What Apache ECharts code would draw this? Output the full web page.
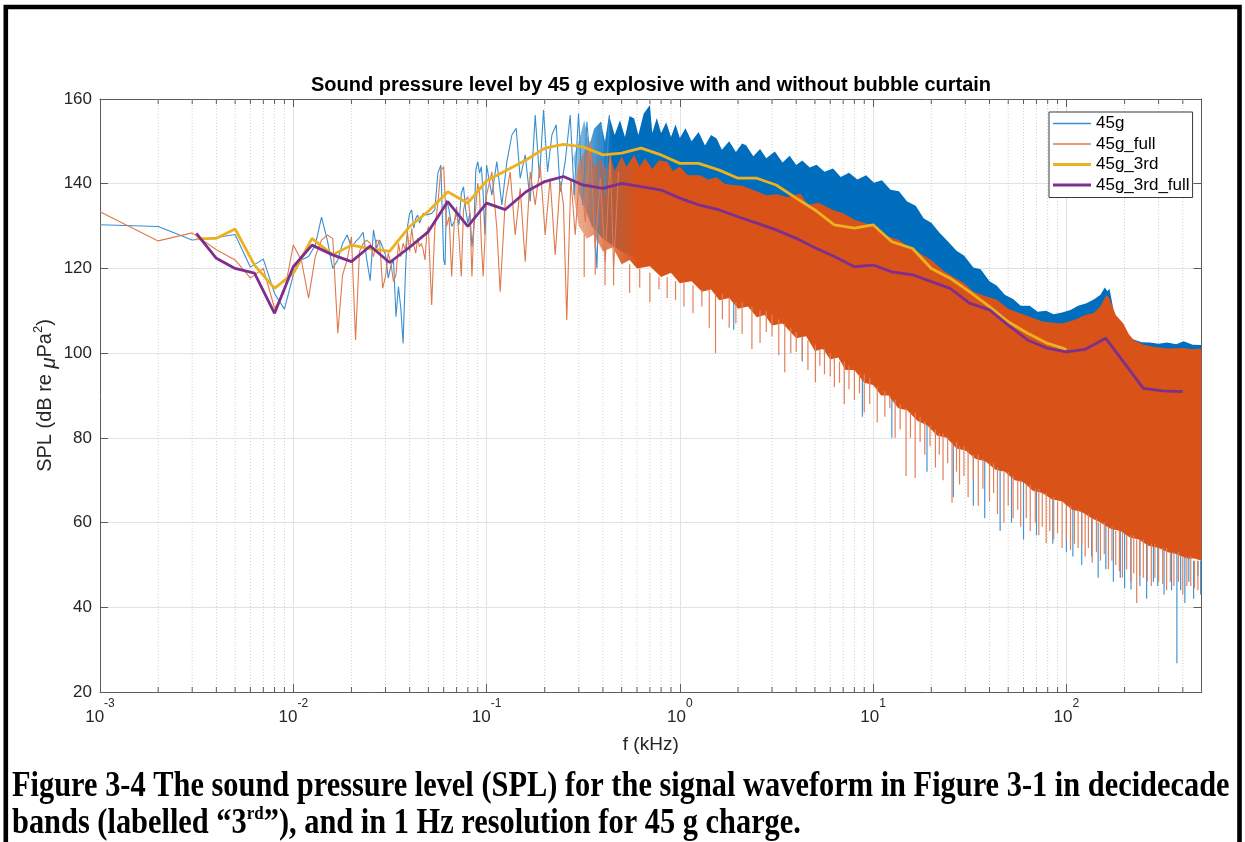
<!DOCTYPE html>
<html><head><meta charset="utf-8">
<script src="https://cdn.jsdelivr.net/npm/echarts/dist/echarts.min.js"></script>
<style>html,body{margin:0;padding:0;background:#fff}#c{width:1245px;height:842px}</style>
</head><body><div id="c"></div><script>
// ---------- DATA (frequency in kHz, SPL in dB re µPa²) ----------
// 1 Hz resolution spectra, low-frequency part where individual points are readable
const blueLine = [
[0.001,130.3],[0.002,129.9],[0.003,126.7],[0.004,127.3],[0.005,128.0],[0.006,120.3],[0.007,122.2],[0.008,114.1],[0.009,110.4],[0.010,118.5],
[0.011,122.0],[0.012,122.8],[0.013,125.5],[0.014,132.1],[0.015,126.7],[0.016,120.0],[0.017,122.0],[0.018,125.9],[0.019,127.9],[0.020,125.0],
[0.021,126.3],[0.022,127.3],[0.023,128.5],[0.024,122.0],[0.025,117.1],[0.026,129.1],[0.027,124.8],[0.028,126.7],[0.029,125.0],[0.030,123.2],
[0.031,117.7],[0.032,120.6],[0.033,122.0],[0.034,108.6],[0.035,115.7],[0.036,110.6],[0.037,102.3],[0.038,118.5],[0.039,129.9],[0.040,133.0],
[0.041,133.8],[0.042,129.5],[0.043,131.8],[0.044,132.6],[0.045,130.7],[0.046,131.8],[0.047,133.0],[0.048,133.4],[0.049,132.6],[0.050,133.0],
[0.052,133.0],[0.054,133.8],[0.056,142.5],[0.058,144.4],[0.060,122.0],[0.061,120.8],[0.062,136.2],[0.064,133.8],[0.066,129.9],[0.068,131.0],
[0.070,133.0],[0.072,130.3],[0.074,137.7],[0.076,139.3],[0.078,133.8],[0.080,130.7],[0.082,133.0],[0.084,125.1],[0.086,129.9],[0.088,143.2],
[0.090,145.2],[0.092,142.5],[0.094,144.0],[0.096,137.7],[0.098,128.0],[0.100,144.4],
[0.1065,137.3],[0.113,145.2],[0.120,135.0],[0.1274,145.2],[0.1352,151.5],[0.1423,153.1],[0.1493,141.3],[0.1585,146.8],[0.1682,135.8],
[0.1785,156.2],[0.1879,141.3],[0.1971,157.4],[0.2068,142.8],[0.2178,151.5],[0.2293,153.9],[0.2404,138.1],[0.2552,145.2],[0.2709,156.2],
[0.2841,137.3],[0.2991,156.6],[0.3150,135.0],[0.3304,154.6],[0.3508,140.5],[0.3724,120.0],[0.3905,154.6],[0.4111,137.3],[0.4327,156.2]
];
const orangeLine = [
[0.001,133.4],[0.002,126.5],[0.003,128.4],[0.004,124.4],[0.005,122.0],[0.006,117.7],[0.007,120.0],[0.008,110.6],[0.009,114.5],[0.010,125.5],
[0.011,122.0],[0.012,113.0],[0.013,122.8],[0.014,126.7],[0.015,127.9],[0.016,127.1],[0.017,104.7],[0.018,118.5],[0.019,122.0],[0.020,127.5],
[0.021,103.1],[0.022,124.0],[0.023,125.9],[0.024,126.7],[0.025,125.9],[0.026,122.8],[0.027,126.7],[0.028,126.3],[0.029,115.3],[0.030,118.1],
[0.031,123.6],[0.032,121.2],[0.033,116.9],[0.034,118.5],[0.035,125.9],[0.036,122.8],[0.037,125.9],[0.038,124.4],[0.039,128.3],[0.040,124.0],
[0.041,129.5],[0.042,125.5],[0.043,123.6],[0.044,127.1],[0.045,125.1],[0.046,125.9],[0.047,124.4],[0.048,122.0],[0.049,127.9],[0.050,129.9],
[0.052,111.4],[0.054,129.5],[0.056,135.4],[0.058,143.2],[0.060,144.0],[0.061,136.9],[0.062,129.9],[0.064,132.2],[0.066,118.1],[0.068,130.7],
[0.070,134.6],[0.072,127.5],[0.074,118.1],[0.076,133.8],[0.078,136.2],[0.080,136.9],[0.082,133.0],[0.084,118.1],[0.086,129.9],[0.088,134.6],
[0.090,140.1],[0.092,137.7],[0.094,125.9],[0.096,118.1],[0.098,126.7],[0.100,137.3],
[0.1065,142.8],[0.113,129.5],[0.1176,114.5],[0.1249,135.8],[0.1325,142.8],[0.1407,127.9],[0.1493,138.9],[0.1585,121.6],[0.1682,142.8],
[0.1785,135.0],[0.1895,144.4],[0.2010,127.9],[0.2133,141.3],[0.2265,123.2],[0.2404,140.5],[0.2500,135.0],[0.2600,107.8],[0.2730,141.3],
[0.2876,127.9],[0.3051,145.2],[0.3240,131.0],[0.3438,150.0],[0.3650,124.7],[0.3876,141.3],[0.4111,121.6],[0.4363,146.8],[0.4540,120.0],[0.4820,142.8]
];
// dense 1 Hz part: upper / lower edge of the solid body
const blueTop = [
[0.28,146],[0.30,150],[0.32,155],[0.34,149],[0.36,153],[0.39,154.6],[0.41,150],[0.43,156.2],[0.46,151.5],[0.49,155],[0.52,151],[0.55,156],[0.58,155.4],
[0.61,151.5],[0.65,156.5],[0.70,158.6],[0.72,152],[0.76,155.5],[0.80,152],[0.85,154.5],[0.9,151],[0.95,154],[1.0,150.8],[1.07,153.1],[1.15,150],
[1.25,152.2],[1.35,149],[1.45,151.5],[1.55,150.7],[1.65,148],[1.8,150],[1.95,147.5],[2.1,149.5],[2.2,149.1],[2.4,146.5],[2.6,148.2],[2.8,146],
[3.1,147.6],[3.4,145],[3.7,146.6],[4.0,144.4],[4.3,145.5],[4.7,143.8],[5.1,144.5],[5.6,142.8],[6.2,143.6],[6.8,141.6],[7.5,142.6],[8.3,141],
[9.2,142],[10.1,140.2],[11.1,140.8],[12.3,138.6],[13.6,138.2],[15,135.8],[16.6,134.8],[18.3,131.8],[20,130.8],[22,128.5],[24.6,126.2],[27,124.2],
[29.6,123],[33,120.2],[36,119.8],[40,117],[43.7,115.9],[48,113.8],[53,112.8],[58,111.2],[64.5,111.2],[71,109.8],[78.5,110],[86,109.2],[95,109.6],
[105,110.2],[115,111.2],[127,111.8],[140,112.8],[150,113.8],[158,115.5],[163,114.6],[167,115.2],[172,112.2],[176,109.6],[190,106],[205,103.8],
[223,103.2],[245,102.6],[270,102.5],[300,102.2],[332,102.5],[370,102.1],[404,102.8],[450,102],[500,101.9]
];
const blueBottom = [
[0.28,146],[0.30,138],[0.35,130],[0.40,127],[0.5,124],[0.7,121],[1.0,120],[1.5,116],[2,114],[3,111],[4,107],[6,102],[8,98],[10,95],[15,89],
[20,85],[30,80],[40,77],[60,72],[100,67],[150,62],[237,58],[373,55],[500,53]
];
const orangeTop = [
[0.28,138],[0.30,145],[0.3438,150],[0.36,144],[0.39,146],[0.42,143],[0.4363,146.8],[0.46,143],[0.5,146.5],[0.53,144],[0.58,146.8],[0.62,144],[0.66,146],
[0.72,143.5],[0.78,145.5],[0.86,145.2],[0.92,143],[1.0,144],[1.1,142],[1.27,142],[1.4,141],[1.55,141.5],[1.7,140],[1.9,139.7],[2.1,139.5],
[2.4,138.5],[2.8,137.3],[3.2,137.5],[3.6,136.8],[4.2,137.7],[4.6,135],[5.2,135.5],[6.2,133.8],[7,133],[8,131.5],[9.2,130.6],[10.5,129.5],
[12,127.5],[13.6,126.7],[15.5,124.8],[17.5,123.5],[20,122],[23,119.5],[26,118],[29.6,116.5],[33,114.5],[38,113.5],[43.7,112.6],[50,110.5],
[57,109.5],[64.5,108.6],[75,107.5],[85,107.2],[95,107],[110,107.8],[125,109],[138,109.4],[150,111],[158,113],[162,113.7],[168,112.6],
[180,109],[197,107],[210,104.5],[223,103.1],[250,102],[280,101.5],[332,101.1],[400,101.2],[450,100.9],[500,101.1]
];
const orangeBottom = [
[0.28,138],[0.30,130],[0.33,127],[0.36,128],[0.4,124],[0.45,125],[0.5,121],[0.55,122],[0.6,120],[0.7,120.5],[0.8,118],[0.9,119],[1.0,116.5],
[1.15,117],[1.3,114.5],[1.45,115],[1.6,112.5],[1.8,113],[2.0,110.5],[2.25,111],[2.5,108.5],[2.75,109],[3.0,106.5],[3.4,107],[4.0,103.5],
[4.5,104],[5.0,100.5],[5.5,101],[6.0,98.5],[6.6,99],[7.2,96],[8.0,96],[9.0,93],[10,92.5],[11,90],[12,90],[13.5,87],[15,86.5],[17,84],
[19,83],[21.5,80.5],[24,80],[27,77.5],[30,77],[34,75],[38,74.5],[43,72.5],[48,72],[54,70],[60,69.5],[67,67.5],[75,67],[84,65.5],[95,65],
[107,63],[120,62.5],[135,61],[150,60],[170,58.5],[190,58],[213,56.5],[237,56],[265,54.5],[300,54],[335,53],[373,52.5],[420,51.5],[460,51.5],[500,51]
];
// individual deep dips of the 1 Hz spectra: [f, from, to]
const orangeDips = [
[0.32,128,118],[0.365,127,118.5],[0.41,124,116],[0.454,123,116],[0.55,121,114.2],[0.62,120,115.5],[0.70,119,112],[0.78,118,115],[0.86,118,113],
[0.95,117,112.5],[1.05,117,111],[1.17,116,109.4],[1.3,115,111],[1.42,115,106],[1.53,114,100],[1.66,114,108],[1.8,113,106],[1.95,112,107],
[2.1,112,104.5],[2.36,111,101],[2.6,110,102.4],[2.8,110,105],[3.0,109,104],[3.25,108,99.5],[3.49,107,95.5],[3.75,106,100],[4.0,105,100.3],
[4.3,104,98.5],[4.6,103,96],[5.03,102,93.1],[5.3,101,97],[5.6,101,95],[6.0,100,94.5],[6.3,99,92],[6.7,98,93],[7.09,98,88],[7.5,97,91.5],
[8.0,96,89],[8.5,95,90.5],[9.0,95,86],[9.6,94,88],[10.5,92,83.6],[11.5,91,85],[12.2,90,87],[13.0,89,80],[13.8,88,82],[14.8,87,71],[15.6,86,80],
[16.5,86,70.5],[17.5,85,79],[18.5,84,76],[19.7,83,78],[21,82,73],[22,81,76],[23,81,70],[24.3,80,74],[25.6,79,64.7],[27,79,72],[28,78,69],
[29.5,78,71],[31,77,66],[33,76,70],[35,76,64],[37,75,68],[40,74,65],[42,74,67],[44,73,62],[47.5,72,60],[50,72,64],[53,71,61],[56,70,63],
[58,70,59],[62,69,61],[65,69,58],[69,68,60],[72,68,57],[75,67,59],[78.6,67,55.2],[82,66,58],[86,66,56],[90,65,57.5],[95,65,54],[100,64,56],
[105,64,53.5],[110,63,55],[115,63,54],[120,62,55],[125,62,52],[130,62,54],[136,61,50.5],[143,61,53],[150,60,51],[157,60,52.5],[165,59,49],
[172,59,51],[180,58,50],[188,58,48.5],[195,58,47],[205,57,49],[215,57,46],[223,57,48],[231,56,41],[240,56,47.5],[250,56,47],[262,55,46],
[275,55,45],[287,55,47],[300,54,46],[315,54,45.5],[330,54,44],[345,53,46],[360,53,45],[380,53,46],[400,52,43],[420,52,45],[440,52,45],
[460,51,44.5],[479,51,44]
];
const blueDips = [
[1.9,114,105.5],[4.3,105,98],[8.8,96,85],[12.5,91,80],[19,84,72],[26,80,66],[33,77,64],[37.8,76,61],[45.4,73,58],[52,72,60],[60,70,56],
[70,69,57],[85,66,55],[100,65,53],[108,64,52],[120,63,50],[135,61,52],[146,60,47],[160,60,49],[175,59,46],[190,58,47],[200,58,44.5],
[216,57,44.2],[240,56,45],[260,55,42],[282,55,46],[297,54,45],[320,54,43],[350,53,44],[373,53,26.8],[390,53,44],[410,52,41],[430,52,46],
[455,51,42],[479,51,47.3],[495,51,43]
];
// decidecade ("3rd") band levels
const thirdFreq = [0.00315,0.004,0.005,0.0063,0.008,0.01,0.0125,0.016,0.02,0.025,0.0315,0.04,0.05,0.063,0.08,0.1,0.125,0.16,0.2,0.25,
0.315,0.4,0.5,0.63,0.8,1,1.25,1.6,2,2.5,3.15,4,5,6.3,8,10,12.5,16,20,25,31.5,40,50,63,80,100,125,160,200,250,315,400];
const third45g = [127.0,127.1,129.3,120.8,115.3,118.9,127.1,123.2,125.5,124.7,124.0,129.9,133.5,138.1,135.4,140.7,143.0,145.6,148.4,149.3,
148.7,146.8,147.2,148.4,146.8,144.8,144.8,143.2,141.3,141.3,139.7,136.6,133.8,130.3,129.5,130.3,126.3,124.7,120.0,117.7,114.5,111.0,107.4,104.7,102.3,100.9];
const third45gFull = [128.3,122.4,120.0,118.9,109.4,120.4,125.5,123.2,121.6,125.3,121.4,125.0,128.7,135.8,129.9,135.4,133.9,138.1,140.5,141.7,
139.7,138.9,140.1,139.3,138.5,136.6,135.0,133.8,132.2,130.7,129.1,127.1,124.9,122.8,120.4,120.8,119.2,118.5,116.9,115.3,111.8,110.2,106.6,103.1,101.1,100.3,
100.9,103.5,97.6,91.7,91.1,90.9];

// ---------- CHART ----------
const FONT = '"Liberation Sans", Arial, Helvetica, sans-serif';
const SERIF = '"Liberation Serif", "Times New Roman", serif';
const chart = echarts.init(document.getElementById('c'), null, {renderer: 'canvas'});
const X_MIN = 0.001, X_MAX = 500, Y_MIN = 20, Y_MAX = 160;

const minorX = [];
for (let e = -3; e <= 2; e++) for (let m = 2; m <= 9; m++) {
  const v = +(m * Math.pow(10, e)).toPrecision(6);
  if (v < X_MAX) minorX.push([v, Y_MIN]);
}

function bandSeries(name, top, bottom, c0, c1, fadeFrom, fadeTo) {
  return {
    type: 'custom', name: name, silent: true, clip: true, z: 2,
    data: [[1, 100]],
    renderItem: function (params, api) {
      const pts = [];
      for (let i = 0; i < top.length; i++) pts.push(api.coord(top[i]));
      for (let i = bottom.length - 1; i >= 0; i--) pts.push(api.coord(bottom[i]));
      const xa = api.coord([fadeFrom, 100])[0], xb = api.coord([fadeTo, 100])[0];
      return {
        type: 'polygon', shape: {points: pts},
        style: {fill: new echarts.graphic.LinearGradient(xa, 0, xb, 0,
          [{offset: 0, color: c0}, {offset: 1, color: c1}], true)}
      };
    }
  };
}
function dipSeries(name, list, color, width) {
  return {
    type: 'custom', name: name, silent: true, clip: true, z: 2, data: list,
    encode: {x: 0, y: [1, 2]},
    renderItem: function (params, api) {
      const a = api.coord([api.value(0), api.value(1)]);
      const b = api.coord([api.value(0), api.value(2)]);
      return {type: 'line', shape: {x1: a[0], y1: a[1], x2: b[0], y2: b[1]}, style: {stroke: color, lineWidth: width}};
    }
  };
}

function xLabel(v) {
  const e = Math.round(Math.log10(v));
  if (Math.abs(v - Math.pow(10, e)) / v > 1e-6) return '';
  return '{b|10}{s|' + e + '}';
}

const axisCol = '#5c5c5c';
const xCommon = {
  type: 'log', logBase: 10, min: X_MIN, max: X_MAX, splitNumber: 6,
  axisLine: {show: true, onZero: false, lineStyle: {color: axisCol, width: 1}},
  axisTick: {show: true, inside: true, length: 8, lineStyle: {color: axisCol}},
  minorTick: {show: false}
};
const yCommon = {
  type: 'value', min: Y_MIN, max: Y_MAX, interval: 20,
  axisLine: {show: true, onZero: false, lineStyle: {color: axisCol, width: 1}},
  axisTick: {show: true, inside: true, length: 8, lineStyle: {color: axisCol}}
};
const thinIcon = 'path://M0,0H38V1.3H0Z', thickIcon = 'path://M0,0H38V2.8H0Z';

chart.setOption({
  animation: false,
  backgroundColor: '#fff',
  grid: {left: 100, right: 43.5, top: 99, bottom: 150, containLabel: false, outerBoundsMode: 'none', show: false},
  xAxis: [
    Object.assign({}, xCommon, {
      position: 'bottom',
      axisLabel: {formatter: xLabel, margin: 6, color: '#262626', fontSize: 17, fontFamily: FONT,
        rich: {b: {fontSize: 17, fontFamily: FONT, color: '#262626', lineHeight: 28, verticalAlign: 'bottom'},
               s: {fontSize: 12, fontFamily: FONT, color: '#262626', lineHeight: 15, verticalAlign: 'top'}}},
      splitLine: {show: true, lineStyle: {color: '#e2e2e2', width: 1}},
      name: 'f (kHz)', nameLocation: 'middle', nameGap: 43, nameMoveOverlap: false,
      nameTextStyle: {fontSize: 19, fontFamily: FONT, color: '#262626'}
    }),
    Object.assign({}, xCommon, {position: 'top', axisLabel: {show: false}, splitLine: {show: false}})
  ],
  yAxis: [
    Object.assign({}, yCommon, {
      position: 'left',
      axisLabel: {fontSize: 17, fontFamily: FONT, color: '#262626', margin: 8},
      splitLine: {show: true, lineStyle: {color: '#e2e2e2', width: 1}},
      name: 'SPL (dB re {i|μ}Pa{s|2})', nameLocation: 'middle', nameRotate: 90, nameGap: 41, nameMoveOverlap: false,
      nameTextStyle: {fontSize: 20, fontFamily: FONT, color: '#262626',
        rich: {i: {fontSize: 20, fontStyle: 'italic', fontFamily: FONT, color: '#262626', lineHeight: 27, verticalAlign: 'bottom'},
               s: {fontSize: 13, fontFamily: FONT, color: '#262626', lineHeight: 15, verticalAlign: 'top'}}}
    }),
    Object.assign({}, yCommon, {position: 'right', axisLabel: {show: false}, splitLine: {show: false}})
  ],
  legend: {
    data: [{name: '45g', icon: thinIcon}, {name: '45g_full', icon: thinIcon},
           {name: '45g_3rd', icon: thickIcon}, {name: '45g_3rd_full', icon: thickIcon}],
    orient: 'vertical', left: 1049, top: 112, symbolKeepAspect: true,
    padding: [3, 3, 4, 4], itemGap: 3.5, itemWidth: 38, itemHeight: 14,
    backgroundColor: '#fff', borderColor: '#3a3a3a', borderWidth: 1, borderRadius: 0,
    textStyle: {fontSize: 17, fontFamily: FONT, color: '#000'},
    selectedMode: false
  },
  graphic: [
    {type: 'rect', silent: true, z: 100, shape: {x: 5.8, y: 7, width: 1233.7, height: 900},
     style: {fill: 'none', stroke: '#000', lineWidth: 4.6}},
    {type: 'text', silent: true, x: 651, y: 75,
     style: {text: 'Sound pressure level by 45 g explosive with and without bubble curtain',
       font: 'bold 20px ' + FONT, fill: '#000', align: 'center', verticalAlign: 'top', textAlign: 'center', textVerticalAlign: 'top'}},
    {type: 'text', silent: true, x: 12, y: 770, scaleY: 1.15,
     style: {text: 'Figure 3-4 The sound pressure level (SPL) for the signal waveform in Figure 3-1 in decidecade',
       font: 'bold 30.4px ' + SERIF, fill: '#000', verticalAlign: 'top', textVerticalAlign: 'top'}},
    {type: 'text', silent: true, x: 12, y: 804, scaleY: 1.15,
     style: {text: '{n|bands (labelled “3}{u|rd}{n|”), and in 1 Hz resolution for 45 g charge.}',
       verticalAlign: 'top', textVerticalAlign: 'top',
       rich: {n: {font: 'bold 30.4px ' + SERIF, fill: '#000', color: '#000', lineHeight: 32, verticalAlign: 'bottom'},
              u: {font: 'bold 17px ' + SERIF, fill: '#000', color: '#000', lineHeight: 20, verticalAlign: 'top'}}}}
  ],
  series: [
    {type: 'custom', name: 'minor grid', silent: true, z: 1, data: minorX,
     renderItem: function (params, api) {
       const x = api.coord([api.value(0), Y_MIN])[0];
       const yb = api.coord([1, Y_MIN])[1], yt = api.coord([1, Y_MAX])[1];
       return {type: 'group', children: [
         {type: 'line', shape: {x1: x, y1: yt, x2: x, y2: yb}, style: {stroke: '#cfcfcf', lineWidth: 1, lineDash: [1, 2]}},
         {type: 'line', shape: {x1: x, y1: yb, x2: x, y2: yb - 5}, style: {stroke: axisCol, lineWidth: 1}},
         {type: 'line', shape: {x1: x, y1: yt, x2: x, y2: yt + 5}, style: {stroke: axisCol, lineWidth: 1}}
       ]};
     }},
    bandSeries('45g dense', blueTop, blueBottom, 'rgba(0,114,189,0.4)', 'rgba(0,110,189,1)', 0.28, 0.45),
    dipSeries('45g dips', blueDips, '#4595d4', 1.2),
    {type: 'line', name: '45g', data: blueLine, symbol: 'none', silent: true, z: 2,
     lineStyle: {color: '#3a8fd0', width: 1.1}, itemStyle: {color: '#3a8fd0'}},
    bandSeries('45g_full dense', orangeTop, orangeBottom, 'rgba(222,100,50,0.5)', 'rgba(217,83,25,1)', 0.28, 0.6),
    dipSeries('45g_full dips', orangeDips, '#e3805a', 1.2),
    {type: 'line', name: '45g_full', data: orangeLine, symbol: 'none', silent: true, z: 2,
     lineStyle: {color: '#e0794c', width: 1.1}, itemStyle: {color: '#e0794c'}},
    {type: 'line', name: '45g_3rd', data: third45g.map((v, i) => [thirdFreq[i], v]), symbol: 'none', silent: true, z: 3,
     lineStyle: {color: '#EDB120', width: 2.8}, itemStyle: {color: '#EDB120'}},
    {type: 'line', name: '45g_3rd_full', data: third45gFull.map((v, i) => [thirdFreq[i], v]), symbol: 'none', silent: true, z: 3,
     lineStyle: {color: '#7E2F8E', width: 2.8}, itemStyle: {color: '#7E2F8E'}}
  ]
});
</script></body></html>
